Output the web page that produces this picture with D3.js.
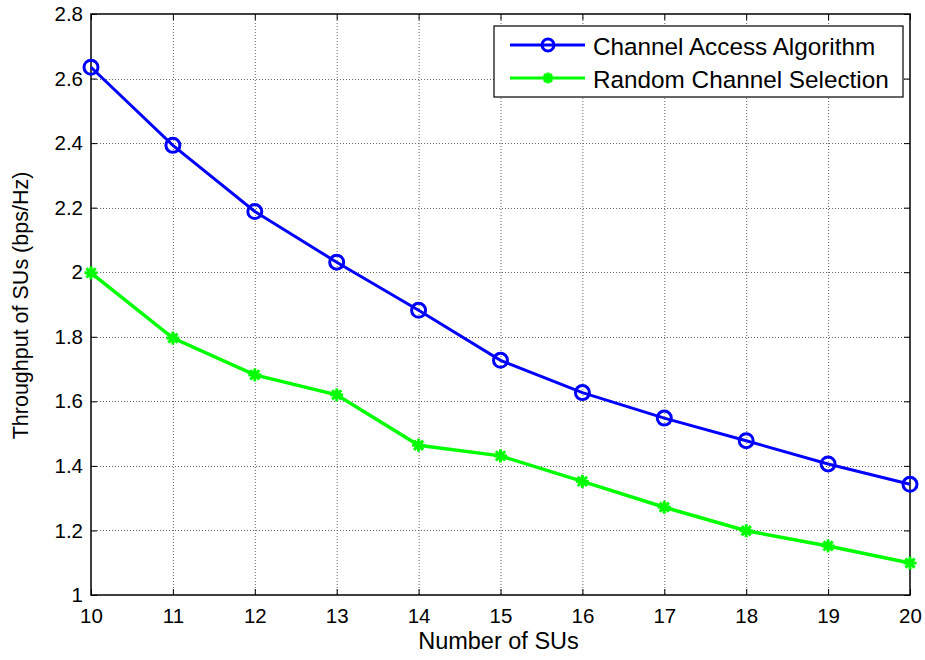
<!DOCTYPE html>
<html>
<head>
<meta charset="utf-8">
<script src="https://cdn.jsdelivr.net/npm/d3@7"></script>
<style>
  html, body { margin: 0; padding: 0; background: #fff; }
  svg { display: block; font-family: Arial, "Liberation Sans", sans-serif; }
</style>
</head>
<body>
<svg id="chart" width="925" height="660"></svg>
<script>
// Number of secondary users on the x axis
const numSUs = [10, 11, 12, 13, 14, 15, 16, 17, 18, 19, 20];
// Throughput (bps/Hz) for each scheme
const channelAccess = [2.635, 2.393, 2.188, 2.031, 1.882, 1.727, 1.627, 1.548, 1.478, 1.406, 1.343];
const randomSelection = [1.998, 1.796, 1.682, 1.620, 1.464, 1.431, 1.352, 1.272, 1.199, 1.152, 1.099];
const xTicks = [10, 11, 12, 13, 14, 15, 16, 17, 18, 19, 20];
const yTicks = [1, 1.2, 1.4, 1.6, 1.8, 2, 2.2, 2.4, 2.6, 2.8];
const seriesNames = ["Channel Access Algorithm", "Random Channel Selection"];

const svg = d3.select("#chart");
const m = { left: 91, right: 15, top: 14, bottom: 65 };
const W = 925, H = 660;
const iw = W - m.left - m.right, ih = H - m.top - m.bottom;

const x = d3.scaleLinear().domain([10, 20]).range([m.left, m.left + iw]);
const y = d3.scaleLinear().domain([1, 2.8]).range([m.top + ih, m.top]);

// dotted grid
const grid = svg.append("g").attr("stroke", "#666").attr("stroke-width", 1)
  .attr("stroke-dasharray", "1,2");
grid.selectAll(".gx").data(xTicks.slice(1, -1)).join("line")
  .attr("x1", d => x(d) + 0.5).attr("x2", d => x(d) + 0.5)
  .attr("y1", m.top).attr("y2", m.top + ih);
grid.selectAll(".gy").data(yTicks.slice(1, -1)).join("line")
  .attr("y1", d => Math.round(y(d)) + 0.5).attr("y2", d => Math.round(y(d)) + 0.5)
  .attr("x1", m.left).attr("x2", m.left + iw);

// axes with inward ticks
const tickLen = 6;
const xAxisB = d3.axisBottom(x).tickValues(xTicks).tickSize(-tickLen).tickPadding(13).tickFormat(d3.format("d"));
const xAxisT = d3.axisTop(x).tickValues(xTicks).tickSize(-tickLen).tickFormat("");
const yAxisL = d3.axisLeft(y).tickValues(yTicks).tickSize(-tickLen).tickPadding(8).tickFormat(d => d3.format("")(+d.toFixed(1)));
const yAxisR = d3.axisRight(y).tickValues(yTicks).tickSize(-tickLen).tickFormat("");

function style(g) {
  g.select(".domain").remove();
  g.selectAll(".tick line").attr("stroke", "#000").attr("stroke-width", 1);
  g.selectAll(".tick text").attr("fill", "#000").attr("font-size", 20.5)
    .attr("font-family", "Arial, 'Liberation Sans', sans-serif");
}
svg.append("g").attr("transform", `translate(0,${m.top + ih})`).call(xAxisB).call(style);
svg.append("g").attr("transform", `translate(0,${m.top})`).call(xAxisT).call(style);
svg.append("g").attr("transform", `translate(${m.left},0)`).call(yAxisL).call(style);
svg.append("g").attr("transform", `translate(${m.left + iw},0)`).call(yAxisR).call(style);

// plot frame
svg.append("rect").attr("x", m.left).attr("y", m.top).attr("width", iw).attr("height", ih)
  .attr("fill", "none").attr("stroke", "#000").attr("stroke-width", 1.5);

// axis titles
svg.append("text").attr("x", m.left + iw / 2 - 2).attr("y", 649).attr("text-anchor", "middle")
  .attr("font-size", 23.5).text("Number of SUs");
svg.append("text").attr("transform", `translate(28,${m.top + ih / 2 + 1}) rotate(-90)`)
  .attr("text-anchor", "middle").attr("font-size", 21.5).text("Throughput of SUs (bps/Hz)");

// series lines and markers
const line = d3.line().x((d, i) => x(numSUs[i])).y(d => y(d));
const blue = "#0000ff", green = "#00ff00";

function asterisk(g, cx, cy, r, color) {
  [0, 45, 90, 135].forEach(deg => {
    const rad = deg * Math.PI / 180;
    g.append("line")
      .attr("x1", cx - r * Math.cos(rad)).attr("y1", cy - r * Math.sin(rad))
      .attr("x2", cx + r * Math.cos(rad)).attr("y2", cy + r * Math.sin(rad))
      .attr("stroke", color).attr("stroke-width", 3);
  });
  g.append("circle").attr("cx", cx).attr("cy", cy).attr("r", 4).attr("fill", color);
}

svg.append("path").datum(channelAccess).attr("d", line)
  .attr("fill", "none").attr("stroke", blue).attr("stroke-width", 3);
svg.append("g").selectAll("circle").data(channelAccess).join("circle")
  .attr("cx", (d, i) => x(numSUs[i])).attr("cy", d => y(d)).attr("r", 7)
  .attr("fill", "none").attr("stroke", blue).attr("stroke-width", 3);

svg.append("path").datum(randomSelection).attr("d", line)
  .attr("fill", "none").attr("stroke", green).attr("stroke-width", 3.5);
const gm = svg.append("g");
randomSelection.forEach((d, i) => asterisk(gm, x(numSUs[i]), y(d), 6.5, green));

// legend
const lg = svg.append("g");
lg.append("rect").attr("x", 494).attr("y", 26).attr("width", 409).attr("height", 71)
  .attr("fill", "#fff").attr("stroke", "#000").attr("stroke-width", 1.2);
const rows = [
  { name: seriesNames[0], color: blue, y: 45 },
  { name: seriesNames[1], color: green, y: 78 }
];
rows.forEach((r, k) => {
  lg.append("line").attr("x1", 510).attr("x2", 585).attr("y1", r.y).attr("y2", r.y)
    .attr("stroke", r.color).attr("stroke-width", 3);
  if (k === 0) {
    lg.append("circle").attr("cx", 548).attr("cy", r.y).attr("r", 6)
      .attr("fill", "none").attr("stroke", r.color).attr("stroke-width", 3);
  } else {
    asterisk(lg, 548, r.y, 5.5, r.color);
  }
  lg.append("text").attr("x", 593).attr("y", r.y + 10).attr("font-size", 24.3)
    .attr("fill", "#000").text(r.name);
});
</script>
</body>
</html>
